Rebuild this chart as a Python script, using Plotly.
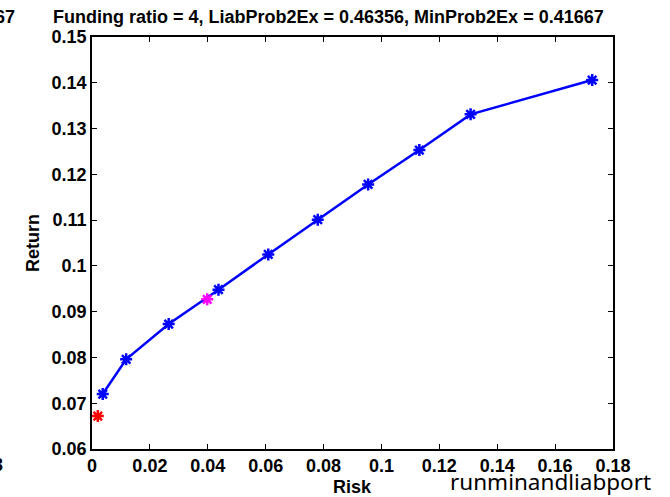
import plotly.graph_objects as go

# Frontier (blue) points
risk = [0.0037, 0.0118, 0.0265, 0.0437, 0.0609, 0.0780, 0.0954, 0.1131, 0.1308, 0.1728]
ret = [0.0720, 0.0796, 0.0873, 0.0948, 0.1025, 0.1101, 0.1178, 0.1253, 0.1331, 0.1406]

# Minimum-risk portfolio (red) and liability portfolio (magenta)
min_risk = [0.0020]
min_ret = [0.0672]
liab_risk = [0.0398]
liab_ret = [0.0927]

xticks = [0, 0.02, 0.04, 0.06, 0.08, 0.1, 0.12, 0.14, 0.16, 0.18]
xtick_text = ["0", "0.02", "0.04", "0.06", "0.08", "0.1", "0.12", "0.14", "0.16", "0.18"]
yticks = [0.06, 0.07, 0.08, 0.09, 0.1, 0.11, 0.12, 0.13, 0.14, 0.15]
ytick_text = ["0.06", "0.07", "0.08", "0.09", "0.1", "0.11", "0.12", "0.13", "0.14", "0.15"]

title_text = "Funding ratio = 4, LiabProb2Ex = 0.46356, MinProb2Ex = 0.41667"

W, H = 670, 497
L, R, T, B = 92, 57, 37, 48

font_b = "Liberation Sans"

fig = go.Figure()
fig.add_trace(go.Scatter(
    x=risk, y=ret, mode="lines+markers",
    line=dict(color="#0000ff", width=2.5),
    marker=dict(symbol="asterisk-open", size=10, color="#0000ff",
                line=dict(color="#0000ff", width=2.5)),
    showlegend=False))
fig.add_trace(go.Scatter(
    x=min_risk, y=min_ret, mode="markers",
    marker=dict(symbol="asterisk-open", size=10, color="#ff0000",
                line=dict(color="#ff0000", width=2.5)),
    showlegend=False))
fig.add_trace(go.Scatter(
    x=liab_risk, y=liab_ret, mode="markers",
    marker=dict(symbol="asterisk-open", size=10, color="#ff00ff",
                line=dict(color="#ff00ff", width=2.5)),
    showlegend=False))

axis_common = dict(
    showline=True, linecolor="black", linewidth=1.5, mirror="ticks",
    ticks="inside", ticklen=5, tickwidth=1, tickcolor="black",
    showgrid=False, zeroline=False,
    tickfont=dict(family=font_b, size=18, color="black", weight="bold"),
)

fig.update_xaxes(range=[0, 0.18], tickvals=xticks, ticktext=xtick_text, **axis_common)
fig.update_yaxes(range=[0.06, 0.15], tickvals=yticks, ticktext=ytick_text, **axis_common)

pw = W - L - R
annotations = [
    dict(text="<b>" + title_text + "</b>", xref="paper", yref="paper",
         x=(328 - L) / pw, y=1, yshift=20, xanchor="center", yanchor="middle",
         showarrow=False, font=dict(family=font_b, size=18, color="black")),
    dict(text="<b>Risk</b>", xref="paper", yref="paper",
         x=0.5, y=0, yshift=-38, xanchor="center", yanchor="middle",
         showarrow=False, font=dict(family=font_b, size=18, color="black")),
    dict(text="<b>Return</b>", xref="paper", yref="paper",
         x=0, xshift=-59, y=0.5, xanchor="center", yanchor="middle", textangle=-90,
         showarrow=False, font=dict(family=font_b, size=18, color="black")),
    dict(text="<b>67</b>", xref="paper", yref="paper",
         x=0, xshift=-L + 17, y=1, yshift=20, xanchor="right", yanchor="middle",
         showarrow=False, font=dict(family=font_b, size=18, color="black")),
    dict(text="<b>3</b>", xref="paper", yref="paper",
         x=0, xshift=-L + 5, y=0, yshift=-16, xanchor="right", yanchor="middle",
         showarrow=False, font=dict(family=font_b, size=18, color="black")),
    dict(text="runminandliabport", xref="paper", yref="paper",
         x=1, xshift=R - 17, y=0, yshift=-32, xanchor="right", yanchor="middle",
         showarrow=False, font=dict(family="Noto Sans", size=22.5, color="black")),
]

fig.update_layout(
    width=W, height=H, autosize=False,
    margin=dict(l=L, r=R, t=T, b=B),
    paper_bgcolor="white", plot_bgcolor="white",
    annotations=annotations,
)

fig.write_html("out.html", config={"displayModeBar": False},
               post_script="document.body.style.margin='0';document.body.style.overflow='hidden';")
